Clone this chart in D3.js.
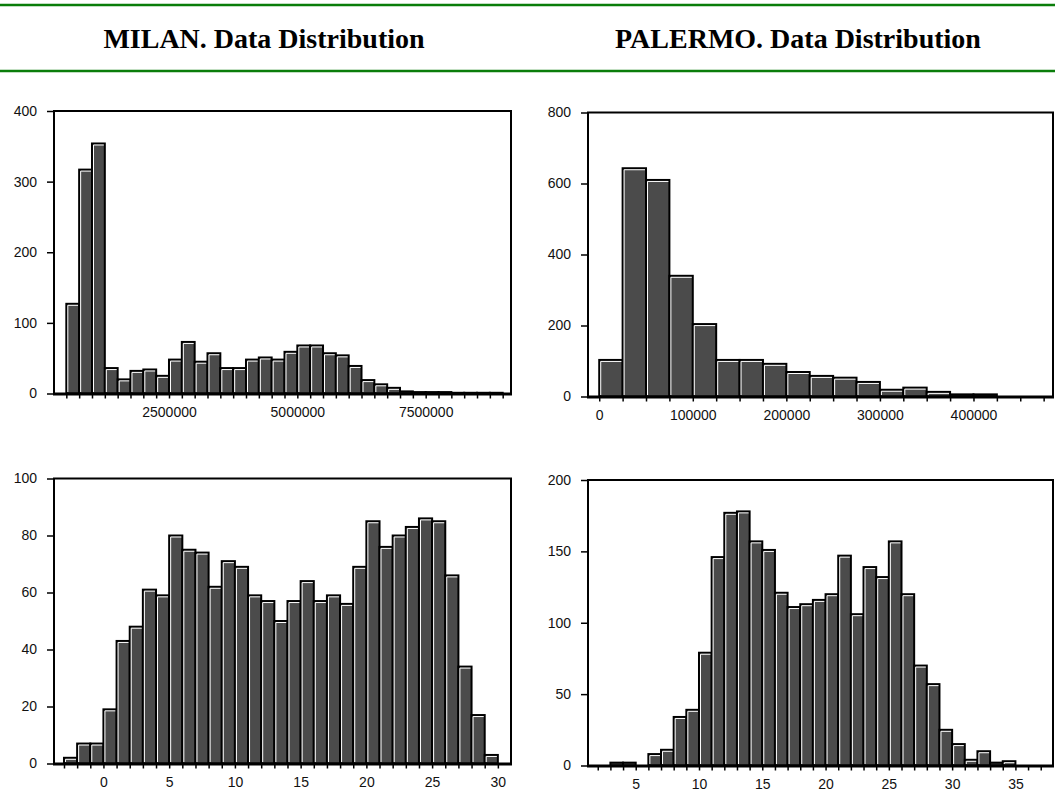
<!DOCTYPE html>
<html>
<head>
<meta charset="utf-8">
<script src="https://cdnjs.cloudflare.com/ajax/libs/d3/7.8.5/d3.min.js"></script>
<style>
  body { margin: 0; background: #fff; }
  svg { display: block; }
  .tick text { font-family: "Liberation Sans", Arial, sans-serif; font-size: 14px; fill: #111; }
</style>
</head>
<body>
<div id="chart"></div>
<script>
// VARIABLES
var width = 1055;
var height = 792;

// Milan - first variable (bins of 250000 starting at 500000)
var milanPriceStart = 500000, milanPriceStep = 250000;
var milanPriceCounts = [127, 317, 354, 36, 20, 32, 34, 25, 48, 73, 45, 57, 36, 36, 48, 51, 48,
                        59, 68, 68, 57, 54, 39, 19, 13, 8, 3, 2, 2, 2, 1, 1, 1, 1];
var milanPriceLabels = [2500000, 5000000, 7500000];
var milanPriceYTicks = [0, 100, 200, 300, 400];

// Palermo - first variable (bins of 25000 starting at 0)
var palermoPriceStart = 0, palermoPriceStep = 25000;
var palermoPriceCounts = [103, 643, 610, 340, 204, 103, 103, 92, 69, 58, 53, 41, 19, 25, 13, 6, 6];
var palermoPriceLabels = [0, 100000, 200000, 300000, 400000];
var palermoPriceYTicks = [0, 200, 400, 600, 800];

// Milan - second variable (bins of 1 starting at -3)
var milanTempStart = -3, milanTempStep = 1;
var milanTempCounts = [2, 7, 7, 19, 43, 48, 61, 59, 80, 75, 74, 62, 71, 69, 59, 57, 50, 57, 64, 57,
                       59, 56, 69, 85, 76, 80, 83, 86, 85, 66, 34, 17, 3];
var milanTempLabels = [0, 5, 10, 15, 20, 25, 30];
var milanTempYTicks = [0, 20, 40, 60, 80, 100];

// Palermo - second variable (bins of 1 starting at 3)
var palermoTempStart = 3, palermoTempStep = 1;
var palermoTempCounts = [2, 2, 0, 8, 11, 34, 39, 79, 146, 177, 178, 157, 151, 121, 111, 113, 116,
                         120, 147, 106, 139, 132, 157, 120, 70, 57, 25, 15, 4, 10, 2, 3];
var palermoTempLabels = [5, 10, 15, 20, 25, 30, 35];
var palermoTempYTicks = [0, 50, 100, 150, 200];

var titles = ["MILAN. Data Distribution", "PALERMO. Data Distribution"];

var svg = d3.select("#chart")
  .append("svg")
  .attr("width", width)
  .attr("height", height);

// header: green rules + titles
svg.selectAll("line.rule")
  .data([5, 71])
  .enter()
  .append("line")
  .attr("class", "rule")
  .attr("x1", 0).attr("x2", width)
  .attr("y1", function(d) { return d; })
  .attr("y2", function(d) { return d; })
  .attr("stroke", "#0a7d0a")
  .attr("stroke-width", 2.5);

svg.selectAll("text.title")
  .data(titles)
  .enter()
  .append("text")
  .attr("class", "title")
  .attr("x", function(d, i) { return i == 0 ? 264 : 798; })
  .attr("y", 48)
  .attr("text-anchor", "middle")
  .attr("font-family", "'Liberation Serif', 'Times New Roman', serif")
  .attr("font-weight", "bold")
  .attr("font-size", "28px")
  .attr("fill", "#000")
  .text(function(d) { return d; });

var drawPanel = function(cfg) {
  var xScale = d3.scaleLinear().domain(cfg.xDomain).range(cfg.xRange);
  var yScale = d3.scaleLinear().domain(cfg.yDomain).range(cfg.yRange);
  var g = svg.append("g");

  // bars
  var bars = g.selectAll("g.bar")
    .data(cfg.counts)
    .enter()
    .append("g")
    .attr("class", "bar");

  bars.append("rect")
    .attr("x", function(d, i) { return xScale(cfg.start + i * cfg.step); })
    .attr("y", function(d) { return yScale(d); })
    .attr("width", function(d, i) {
      return xScale(cfg.start + (i + 1) * cfg.step) - xScale(cfg.start + i * cfg.step);
    })
    .attr("height", function(d) { return yScale(0) - yScale(d); })
    .attr("fill", "#4b4b4b")
    .attr("stroke", function(d) { return d > 0 ? "#000" : "none"; })
    .attr("stroke-width", 2);

  // white bevel on left and top
  bars.each(function(d, i) {
    var h = yScale(0) - yScale(d);
    if (h <= 4) return;
    var x0 = xScale(cfg.start + i * cfg.step) + 1.5;
    var x1 = xScale(cfg.start + (i + 1) * cfg.step) - 1;
    var y0 = yScale(0) - 1.5;
    var y1 = yScale(d) + 1.5;
    d3.select(this).append("path")
      .attr("d", "M" + x0 + "," + y0 + "V" + y1 + "H" + x1)
      .attr("fill", "none")
      .attr("stroke", "#fff")
      .attr("stroke-width", 1);
  });

  // frame (left, top, right)
  var fx0 = cfg.xRange[0], fx1 = cfg.xRange[1];
  var fy0 = cfg.yRange[0], fy1 = cfg.yRange[1];
  g.append("path")
    .attr("d", "M" + fx0 + "," + fy0 + "V" + fy1 + "H" + fx1 + "V" + fy0)
    .attr("fill", "none")
    .attr("stroke", "#000")
    .attr("stroke-width", 2);

  // y axis
  var yAxis = d3.axisLeft(yScale)
    .tickValues(cfg.yTicks)
    .tickSize(7)
    .tickPadding(10)
    .tickFormat(d3.format("d"));
  g.append("g")
    .attr("transform", "translate(" + fx0 + ",0)")
    .call(yAxis)
    .call(function(a) {
      a.select(".domain").remove();
      a.selectAll(".tick line").attr("stroke", "#000").attr("stroke-width", 1.5);
    });

  // x axis
  var xAxis = d3.axisBottom(xScale)
    .tickValues(cfg.xTicks)
    .tickSize(5)
    .tickPadding(9)
    .tickFormat(function(d) {
      return cfg.xLabels.indexOf(d) >= 0 ? d3.format("d")(d) : "";
    });
  g.append("g")
    .attr("transform", "translate(0," + yScale(0) + ")")
    .call(xAxis)
    .call(function(a) {
      a.select(".domain").remove();
      a.selectAll(".tick line").attr("stroke", "#000").attr("stroke-width", 1.5);
    });

  // thick baseline
  g.append("line")
    .attr("x1", fx0 - 1).attr("x2", fx1 + 1)
    .attr("y1", yScale(0) + 0.5).attr("y2", yScale(0) + 0.5)
    .attr("stroke", "#000")
    .attr("stroke-width", 3);
};

drawPanel({
  xDomain: [260000, 9162000], xRange: [54, 511],
  yDomain: [0, 400], yRange: [393.5, 111],
  start: milanPriceStart, step: milanPriceStep, counts: milanPriceCounts,
  xTicks: d3.range(500000, 9000001, 250000), xLabels: milanPriceLabels,
  yTicks: milanPriceYTicks
});

drawPanel({
  xDomain: [-12000, 485000], xRange: [588, 1053],
  yDomain: [0, 800], yRange: [396.5, 112.5],
  start: palermoPriceStart, step: palermoPriceStep, counts: palermoPriceCounts,
  xTicks: d3.range(0, 475001, 25000), xLabels: palermoPriceLabels,
  yTicks: palermoPriceYTicks
});

drawPanel({
  xDomain: [-3.76, 31.0], xRange: [54, 511],
  yDomain: [0, 100], yRange: [763.5, 478.5],
  start: milanTempStart, step: milanTempStep, counts: milanTempCounts,
  xTicks: d3.range(-3, 31, 1), xLabels: milanTempLabels,
  yTicks: milanTempYTicks
});

drawPanel({
  xDomain: [1.23, 37.97], xRange: [588, 1053],
  yDomain: [0, 200], yRange: [765.5, 480],
  start: palermoTempStart, step: palermoTempStep, counts: palermoTempCounts,
  xTicks: d3.range(2, 38, 1), xLabels: palermoTempLabels,
  yTicks: palermoTempYTicks
});
</script>
</body>
</html>
